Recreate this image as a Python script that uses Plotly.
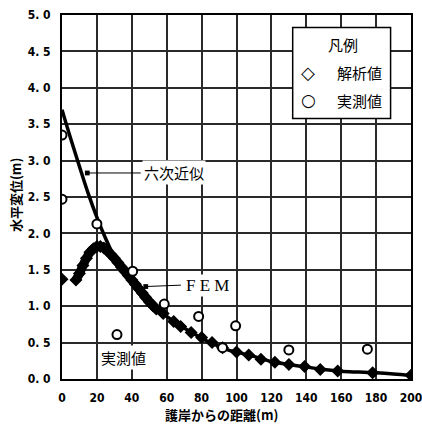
import plotly.graph_objects as go

# Measured horizontal displacement (実測値)
obs_x = [0, 0, 20, 31.5, 40.5, 58.6, 78.3, 92, 99.5, 130, 175]
obs_y = [3.35, 2.47, 2.13, 0.61, 1.48, 1.03, 0.86, 0.43, 0.73, 0.40, 0.41]

# FEM analysis values (解析値)
fem_x = [0, 8, 10, 12, 14, 16, 18, 20, 22, 24, 26, 28, 30, 32, 34, 36, 38, 40,
         42, 44, 46, 48, 50, 52, 54, 58, 64, 68, 74, 80, 86, 92, 100, 107,
         114, 122, 130, 139, 148, 158, 178, 200]
fem_y = [1.37, 1.36, 1.45, 1.56, 1.66, 1.74, 1.79, 1.82, 1.82, 1.80, 1.76,
         1.71, 1.66, 1.60, 1.54, 1.48, 1.42, 1.36, 1.30, 1.24, 1.18, 1.12,
         1.06, 1.01, 0.96, 0.90, 0.79, 0.72, 0.64, 0.57, 0.50, 0.43, 0.37,
         0.33, 0.27, 0.23, 0.20, 0.17, 0.13, 0.11, 0.085, 0.05]

# Sixth-order approximation curve (六次近似)
fit_x = [0, 5, 10, 15, 20, 25, 30, 35, 40, 45, 50, 55, 60, 65, 70, 75, 80,
         85, 90, 95, 100, 110, 120, 130, 140, 150, 160, 170, 180, 190, 200]
fit_y = [3.70, 3.30, 2.92, 2.55, 2.22, 1.93, 1.68, 1.49, 1.35, 1.21,
         1.07, 0.95, 0.86, 0.78, 0.70, 0.63, 0.56, 0.50, 0.45, 0.40, 0.37,
         0.31, 0.24, 0.20, 0.165, 0.13, 0.105, 0.095, 0.085, 0.07, 0.05]

x_ticks = list(range(0, 201, 20))
y_ticks = [0.0, 0.5, 1.0, 1.5, 2.0, 2.5, 3.0, 3.5, 4.0, 4.5, 5.0]
y_tick_text = [f"{v:.1f}".replace(".", ". ") for v in y_ticks]

X_RANGE = [0, 200]
Y_RANGE = [0, 5]

FONT = "Noto Sans CJK JP"
TICK_FONT = dict(family="DejaVu Sans Condensed", size=12, color="black", weight="bold")
GRID_COLOR = "#2a2a2a"

fig = go.Figure()

# Sixth-order curve
fig.add_trace(go.Scatter(
    x=fit_x, y=fit_y, mode="lines", line=dict(color="black", width=3.5, shape="spline"),
    showlegend=False, hoverinfo="skip"))

# Dense FEM nodes near the wall form a thick band
fig.add_trace(go.Scatter(
    x=fem_x[1:25], y=fem_y[1:25], mode="lines",
    line=dict(color="black", width=9, shape="spline"),
    showlegend=False, hoverinfo="skip"))

fig.add_trace(go.Scatter(
    x=fem_x, y=fem_y, mode="markers",
    marker=dict(symbol="diamond", size=10, color="black"),
    showlegend=False))

fig.add_trace(go.Scatter(
    x=obs_x, y=obs_y, mode="markers",
    marker=dict(symbol="circle", size=9, color="white", line=dict(color="black", width=2)),
    showlegend=False))

axis_common = dict(
    showgrid=True, gridcolor=GRID_COLOR, gridwidth=1.5,
    showline=True, linecolor="black", linewidth=2, mirror=True,
    ticks="outside", tickcolor="rgba(0,0,0,0)", zeroline=False,
    automargin=False, tickfont=TICK_FONT, ticklabeloverflow="allow",
)

fig.update_xaxes(range=X_RANGE, tickvals=x_ticks, ticklen=7, **axis_common)
fig.update_yaxes(range=Y_RANGE, tickvals=y_ticks, ticktext=y_tick_text, ticklen=7, **axis_common)

# Legend frame (masks the grid behind it)
shapes = [dict(type="rect", xref="paper", yref="paper", x0=0.661, x1=0.9415,
               y0=0.716, y1=0.966, line=dict(color="black", width=1.5),
               fillcolor="white", layer="above")]

def paper_text(x, y, text, size=15, family=FONT, xanchor="center", **kw):
    return dict(xref="paper", yref="paper", x=x, y=y, text=text, showarrow=False,
                xanchor=xanchor, yanchor="middle",
                font=dict(family=family, size=size, color="black", **kw))

annotations = [
    # axis titles
    dict(paper_text(-0.135, 0.505, "水平変位(m)", size=13, weight="bold"), textangle=-90),
    paper_text(0.456, -0.098, "護岸からの距離(m)", size=13, weight="bold"),
    # curve labels
    dict(x=14.5, y=2.83, ax=46, ay=2.83, xref="x", yref="y", axref="x", ayref="y",
         text="", showarrow=True, arrowhead=7, arrowsize=1.2, arrowwidth=1, arrowcolor="black"),
    dict(x=46, y=2.83, text="六次近似", xanchor="left", yanchor="middle", showarrow=False,
         bgcolor="white", font=dict(family=FONT, size=15, color="black")),
    dict(x=48, y=1.27, ax=69, ay=1.29, xref="x", yref="y", axref="x", ayref="y",
         text="", showarrow=True, arrowhead=7, arrowsize=1.2, arrowwidth=1, arrowcolor="black"),
    dict(x=70, y=1.29, text="F E M", xanchor="left", yanchor="middle", showarrow=False,
         bgcolor="white", font=dict(family="Liberation Serif", size=17, color="black")),
    dict(x=35, y=0.30, text="実測値", showarrow=False, yanchor="middle",
         bgcolor="white", font=dict(family=FONT, size=15, color="black")),
    # legend contents
    paper_text(0.805, 0.918, "凡例"),
    paper_text(0.705, 0.843, "◇", size=18, family="DejaVu Sans"),
    paper_text(0.782, 0.843, "解析値", xanchor="left"),
    paper_text(0.705, 0.766, "○", size=17, family="DejaVu Sans"),
    paper_text(0.782, 0.766, "実測値", xanchor="left"),
]

fig.update_layout(
    width=422, height=426,
    margin=dict(l=62, r=11, t=15, b=47),
    paper_bgcolor="white", plot_bgcolor="white",
    annotations=annotations, shapes=shapes,
    showlegend=False,
)

fig.write_html("out.html")
